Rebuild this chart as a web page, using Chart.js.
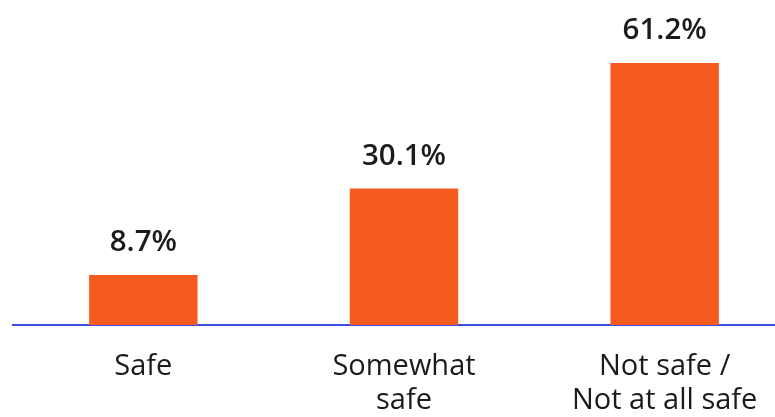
<!DOCTYPE html>
<html>
<head>
<meta charset="utf-8">
<script src="https://cdn.jsdelivr.net/npm/chart.js@4"></script>
<style>
  html, body { margin: 0; padding: 0; background: #ffffff; overflow: hidden; }
  #wrap { width: 795px; height: 417px; position: relative; }
</style>
</head>
<body>
<div id="wrap"><canvas id="c"></canvas></div>
<script>
// Perceived safety survey results
const categories = [["Safe"], ["Somewhat", "safe"], ["Not safe /", "Not at all safe"]];
const shares = [8.7, 30.1, 61.2];
const valueLabels = ["8.7%", "30.1%", "61.2%"];

const FONT = "'Open Sans', 'DejaVu Sans', sans-serif";
const AXIS_MIN = -3.7;

// Writes the percentage above each bar
const valueLabelPlugin = {
  id: 'valueLabels',
  afterDatasetsDraw(chart) {
    const ctx = chart.ctx;
    const meta = chart.getDatasetMeta(0);
    ctx.save();
    ctx.font = "600 29.5px " + FONT;
    ctx.fillStyle = '#1b1b1b';
    ctx.textAlign = 'center';
    ctx.textBaseline = 'alphabetic';
    meta.data.forEach((bar, i) => {
      ctx.fillText(valueLabels[i], bar.x, bar.y - 24);
    });
    ctx.restore();
  }
};

new Chart(document.getElementById('c'), {
  type: 'bar',
  data: {
    labels: categories,
    datasets: [{
      data: shares,
      base: AXIS_MIN,
      backgroundColor: '#F55A1E',
      borderWidth: 0,
      barPercentage: 0.416,
      categoryPercentage: 1.0
    }]
  },
  options: {
    responsive: true,
    maintainAspectRatio: false,
    animation: false,
    layout: { padding: { left: 13, right: 0, top: 0, bottom: 0 } },
    plugins: { legend: { display: false }, tooltip: { enabled: false } },
    scales: {
      x: {
        grid: { display: false, drawTicks: false },
        border: { display: true, color: '#3A4FE2', width: 2 },
        ticks: {
          color: '#1b1b1b',
          font: { family: FONT, size: 29 },
          padding: 24,
          maxRotation: 0,
          autoSkip: false
        },
        afterFit(scale) { scale.height = 92; }
      },
      y: {
        display: false,
        min: AXIS_MIN,
        max: 76.8
      }
    }
  },
  plugins: [valueLabelPlugin]
});
</script>
</body>
</html>
